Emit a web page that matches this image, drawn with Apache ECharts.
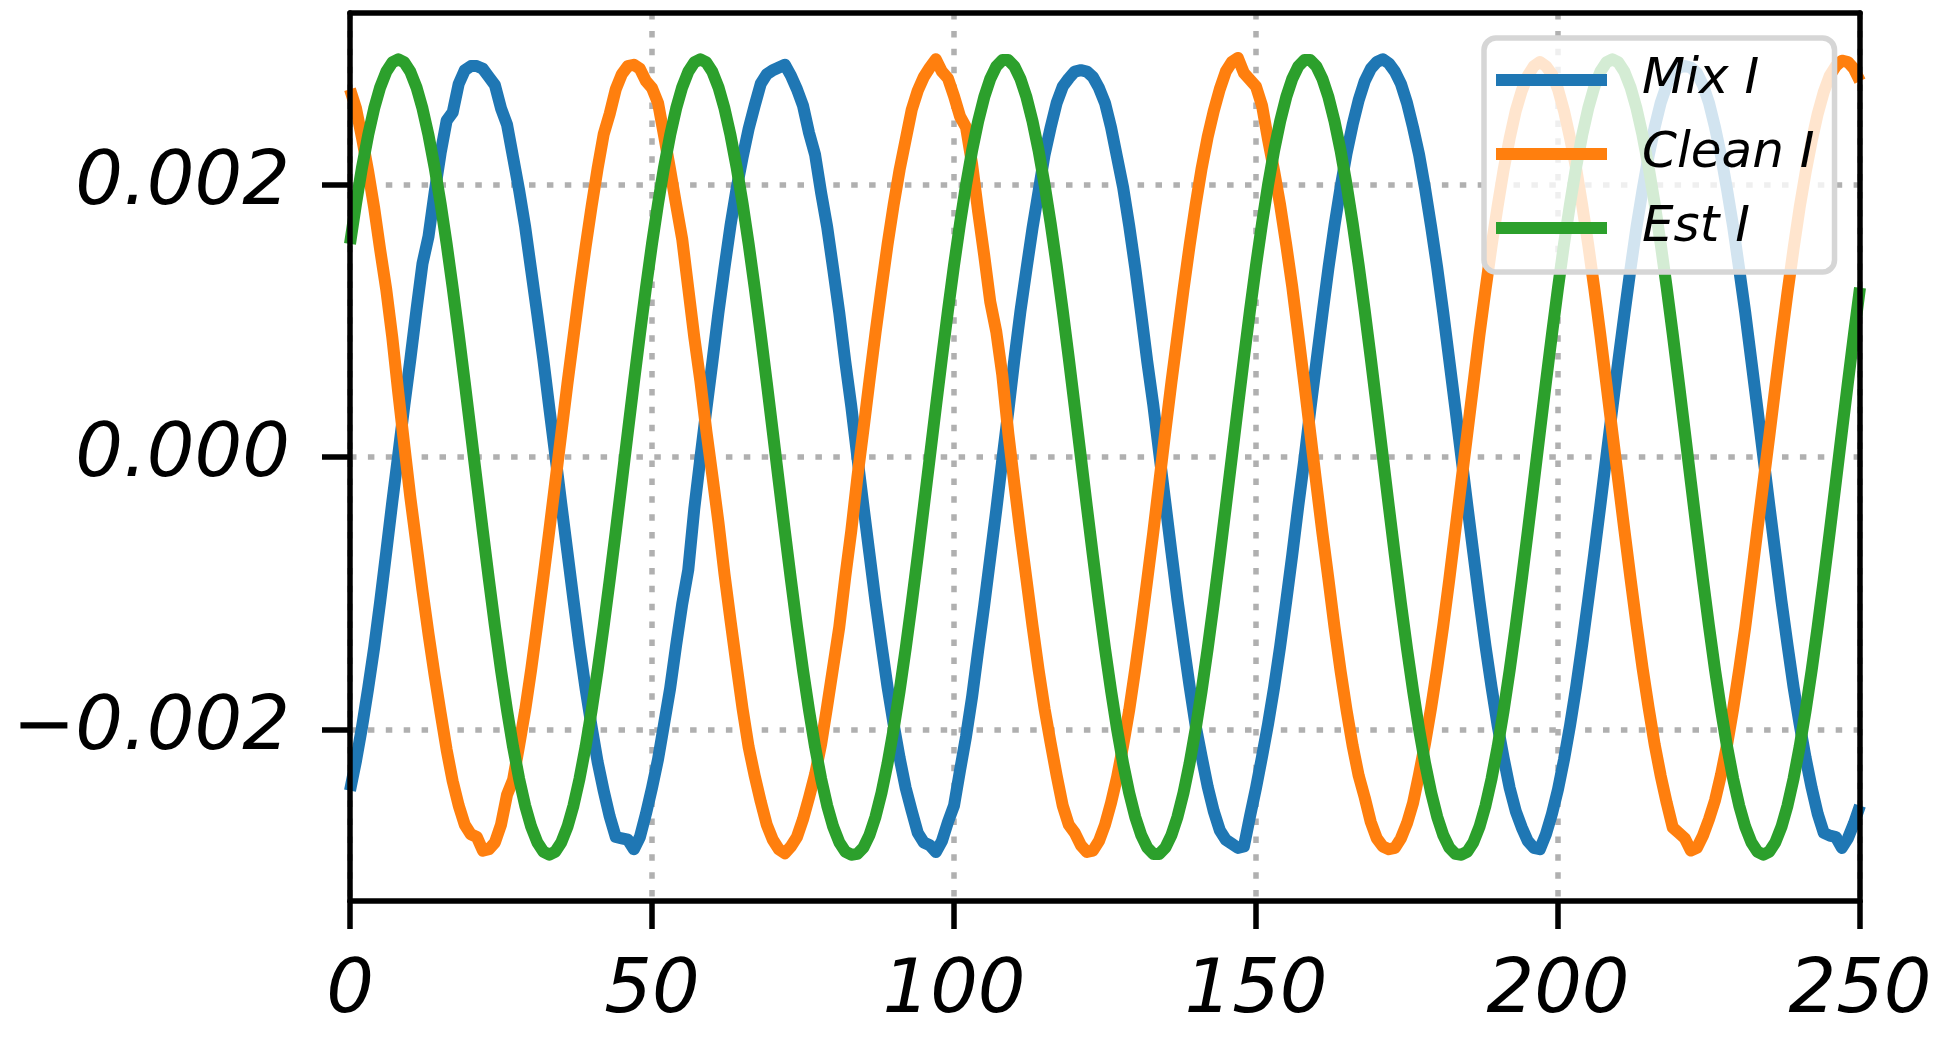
<!DOCTYPE html>
<html>
<head>
<meta charset="utf-8">
<script src="https://cdn.jsdelivr.net/npm/echarts@6/dist/echarts.min.js"></script>
<style>
html,body{margin:0;padding:0;background:#fff;}
#chart{width:1944px;height:1044px;}
</style>
</head>
<body>
<div id="chart"></div>
<script>
// ---- data (sample index 0..250) ----
const seriesNames = ['Mix I', 'Clean I', 'Est I'];
const seriesColors = ['#1f77b4', '#ff7f0e', '#2ca02c'];

const mixI = [
 -0.002450,-0.002230,-0.001980,-0.001700,-0.001400,-0.001060,-0.000700,-0.000330,0.000020,0.000380,
 0.000720,0.001080,0.001420,0.001620,0.001940,0.002230,0.002470,0.002530,0.002740,0.002840,
 0.002870,0.002870,0.002850,0.002790,0.002730,0.002560,0.002440,0.002200,0.001960,0.001690,
 0.001370,0.001050,0.000720,0.000360,0.000010,-0.000350,-0.000700,-0.001050,-0.001390,-0.001700,
 -0.001980,-0.002240,-0.002450,-0.002640,-0.002790,-0.002800,-0.002810,-0.002880,-0.002790,-0.002620,
 -0.002430,-0.002220,-0.001960,-0.001700,-0.001380,-0.001080,-0.000830,-0.000380,-0.000010,0.000350,
 0.000700,0.001060,0.001390,0.001700,0.001970,0.002200,0.002410,0.002580,0.002740,0.002810,
 0.002840,0.002860,0.002880,0.002800,0.002700,0.002580,0.002380,0.002220,0.001940,0.001690,
 0.001380,0.001060,0.000700,0.000370,0,-0.000360,-0.000710,-0.001060,-0.001380,-0.001690,
 -0.001960,-0.002210,-0.002430,-0.002600,-0.002760,-0.002830,-0.002850,-0.002900,-0.002820,-0.002680,
 -0.002560,-0.002300,-0.002050,-0.001760,-0.001420,-0.001090,-0.000740,-0.000390,-0.000020,0.000340,
 0.000720,0.001070,0.001380,0.001680,0.001950,0.002220,0.002420,0.002600,0.002720,0.002780,
 0.002830,0.002840,0.002830,0.002790,0.002710,0.002600,0.002420,0.002200,0.001980,0.001700,
 0.001390,0.001050,0.000700,0.000380,0.000020,-0.000340,-0.000700,-0.001050,-0.001370,-0.001680,
 -0.001970,-0.002200,-0.002420,-0.002600,-0.002740,-0.002810,-0.002840,-0.002870,-0.002860,-0.002640,
 -0.002430,-0.002200,-0.001960,-0.001690,-0.001390,-0.001060,-0.000720,-0.000360,-0.000020,0.000350,
 0.000700,0.001050,0.001390,0.001700,0.001980,0.002230,0.002440,0.002620,0.002760,0.002850,
 0.002900,0.002920,0.002890,0.002830,0.002740,0.002600,0.002420,0.002220,0.001970,0.001690,
 0.001390,0.001060,0.000710,0.000360,0,-0.000360,-0.000710,-0.001060,-0.001390,-0.001690,
 -0.001970,-0.002210,-0.002430,-0.002600,-0.002720,-0.002820,-0.002870,-0.002880,-0.002770,-0.002620,
 -0.002440,-0.002220,-0.001970,-0.001690,-0.001380,-0.001050,-0.000710,-0.000360,0,0.000360,
 0.000710,0.001050,0.001380,0.001690,0.001960,0.002210,0.002420,0.002600,0.002730,0.002820,
 0.002860,0.002870,0.002860,0.002820,0.002730,0.002600,0.002420,0.002210,0.001960,0.001690,
 0.001380,0.001060,0.000710,0.000360,0,-0.000360,-0.000710,-0.001060,-0.001380,-0.001690,
 -0.001960,-0.002210,-0.002430,-0.002620,-0.002760,-0.002780,-0.002790,-0.002870,-0.002800,-0.002690,
 -0.002560
];

const cleanI = [
 0.002700,0.002560,0.002340,0.002100,0.001830,0.001520,0.001230,0.000880,0.000470,0.000080,
 -0.000300,-0.000640,-0.000980,-0.001300,-0.001600,-0.001880,-0.002150,-0.002380,-0.002560,-0.002700,
 -0.002770,-0.002790,-0.002890,-0.002880,-0.002830,-0.002700,-0.002480,-0.002370,-0.002120,-0.001860,
 -0.001560,-0.001230,-0.000890,-0.000540,-0.000180,0.000180,0.000540,0.000880,0.001220,0.001540,
 0.001840,0.002120,0.002370,0.002520,0.002700,0.002810,0.002870,0.002880,0.002850,0.002760,
 0.002710,0.002600,0.002360,0.002110,0.001850,0.001600,0.001240,0.000880,0.000560,0.000190,
 -0.000140,-0.000480,-0.000860,-0.001200,-0.001530,-0.001850,-0.002130,-0.002340,-0.002530,-0.002700,
 -0.002810,-0.002880,-0.002910,-0.002860,-0.002790,-0.002660,-0.002500,-0.002330,-0.002110,-0.001830,
 -0.001540,-0.001250,-0.000880,-0.000540,-0.000150,0.000200,0.000560,0.000910,0.001240,0.001560,
 0.001850,0.002110,0.002330,0.002550,0.002690,0.002790,0.002860,0.002920,0.002830,0.002780,
 0.002650,0.002500,0.002420,0.002150,0.001800,0.001480,0.001140,0.000920,0.000600,0.000170,
 -0.000200,-0.000560,-0.000900,-0.001240,-0.001560,-0.001850,-0.002100,-0.002340,-0.002560,-0.002700,
 -0.002760,-0.002850,-0.002900,-0.002890,-0.002820,-0.002700,-0.002540,-0.002350,-0.002120,-0.001860,
 -0.001560,-0.001240,-0.000900,-0.000550,-0.000180,0.000190,0.000550,0.000890,0.001230,0.001550,
 0.001850,0.002120,0.002350,0.002540,0.002700,0.002830,0.002900,0.002930,0.002820,0.002770,
 0.002720,0.002580,0.002330,0.002100,0.001850,0.001560,0.001250,0.000900,0.000540,0.000170,
 -0.000200,-0.000560,-0.000900,-0.001250,-0.001570,-0.001860,-0.002120,-0.002340,-0.002500,-0.002680,
 -0.002800,-0.002860,-0.002880,-0.002870,-0.002800,-0.002690,-0.002540,-0.002330,-0.002100,-0.001840,
 -0.001550,-0.001240,-0.000900,-0.000540,-0.000180,0.000180,0.000540,0.000900,0.001230,0.001550,
 0.001840,0.002110,0.002340,0.002540,0.002690,0.002800,0.002870,0.002900,0.002870,0.002810,
 0.002700,0.002540,0.002340,0.002120,0.001850,0.001560,0.001240,0.000900,0.000540,0.000180,
 -0.000180,-0.000540,-0.000890,-0.001230,-0.001550,-0.001840,-0.002110,-0.002340,-0.002540,-0.002720,
 -0.002760,-0.002800,-0.002890,-0.002870,-0.002780,-0.002660,-0.002520,-0.002330,-0.002110,-0.001850,
 -0.001560,-0.001250,-0.000900,-0.000540,-0.000190,0.000160,0.000520,0.000870,0.001210,0.001530,
 0.001830,0.002090,0.002320,0.002520,0.002680,0.002800,0.002870,0.002910,0.002900,0.002850,
 0.002760
];

const estI = [
 0.001565,0.001861,0.002129,0.002362,0.002559,0.002715,0.002828,0.002897,0.002920,0.002897,
 0.002828,0.002715,0.002559,0.002362,0.002129,0.001861,0.001565,0.001243,0.000902,0.000547,
 0.000183,-0.000183,-0.000547,-0.000902,-0.001243,-0.001565,-0.001861,-0.002129,-0.002362,-0.002559,
 -0.002715,-0.002828,-0.002897,-0.002920,-0.002897,-0.002828,-0.002715,-0.002559,-0.002362,-0.002129,
 -0.001861,-0.001565,-0.001243,-0.000902,-0.000547,-0.000183,0.000183,0.000547,0.000902,0.001243,
 0.001565,0.001861,0.002129,0.002362,0.002559,0.002715,0.002828,0.002897,0.002920,0.002897,
 0.002828,0.002715,0.002559,0.002362,0.002129,0.001861,0.001565,0.001243,0.000902,0.000547,
 0.000183,-0.000183,-0.000547,-0.000902,-0.001243,-0.001565,-0.001861,-0.002129,-0.002362,-0.002559,
 -0.002715,-0.002828,-0.002897,-0.002920,-0.002914,-0.002868,-0.002777,-0.002642,-0.002465,-0.002250,
 -0.001999,-0.001716,-0.001407,-0.001075,-0.000726,-0.000366,0,0.000366,0.000726,0.001075,
 0.001407,0.001716,0.001999,0.002250,0.002465,0.002642,0.002777,0.002868,0.002914,0.002914,
 0.002868,0.002777,0.002642,0.002465,0.002250,0.001999,0.001716,0.001407,0.001075,0.000726,
 0.000366,0,-0.000366,-0.000726,-0.001075,-0.001407,-0.001716,-0.001999,-0.002250,-0.002465,
 -0.002642,-0.002777,-0.002868,-0.002914,-0.002914,-0.002868,-0.002777,-0.002642,-0.002465,-0.002250,
 -0.001999,-0.001716,-0.001407,-0.001075,-0.000726,-0.000366,0,0.000366,0.000726,0.001075,
 0.001407,0.001716,0.001999,0.002250,0.002465,0.002642,0.002777,0.002868,0.002914,0.002914,
 0.002868,0.002777,0.002642,0.002465,0.002250,0.001999,0.001716,0.001407,0.001075,0.000726,
 0.000366,0,-0.000366,-0.000726,-0.001075,-0.001407,-0.001716,-0.001999,-0.002250,-0.002465,
 -0.002642,-0.002777,-0.002868,-0.002914,-0.002920,-0.002897,-0.002828,-0.002715,-0.002559,-0.002362,
 -0.002129,-0.001861,-0.001565,-0.001243,-0.000902,-0.000547,-0.000183,0.000183,0.000547,0.000902,
 0.001243,0.001565,0.001861,0.002129,0.002362,0.002559,0.002715,0.002828,0.002897,0.002920,
 0.002897,0.002828,0.002715,0.002559,0.002362,0.002129,0.001861,0.001565,0.001243,0.000902,
 0.000547,0.000183,-0.000183,-0.000547,-0.000902,-0.001243,-0.001565,-0.001861,-0.002129,-0.002362,
 -0.002559,-0.002715,-0.002828,-0.002897,-0.002920,-0.002897,-0.002828,-0.002715,-0.002559,-0.002362,
 -0.002129,-0.001861,-0.001565,-0.001243,-0.000902,-0.000547,-0.000183,0.000183,0.000547,0.000902,
 0.001243
];

const xTicks = [0, 50, 100, 150, 200, 250];
const yTicks = [-0.002, 0, 0.002];
const yTickLabels = ['\u22120.002', '0.000', '0.002'];

// ---- chart ----
const FONT = 'DejaVu Sans';
const X_MIN = xTicks[0], X_MAX = xTicks[xTicks.length - 1], X_STEP = xTicks[1] - xTicks[0];
const Y_MIN = -0.00326, Y_MAX = 0.00326;
const frame = { color: '#000', width: 5.5 };
const gridDots = { color: '#b0b0b0', width: 5.5, type: [6.5, 11.4] };

function yLabel(v) {
  for (let i = 0; i < yTicks.length; i++) {
    if (Math.abs(v - yTicks[i]) < 1e-9) return yTickLabels[i];
  }
  return '';
}

const chart = echarts.init(document.getElementById('chart'), null, { renderer: 'canvas', width: 1944, height: 1044 });

const allSeries = [mixI, cleanI, estI].map((vals, k) => ({
  name: seriesNames[k],
  type: 'line',
  data: vals.map((v, i) => [i, v]),
  showSymbol: false,
  symbol: 'none',
  silent: true,
  clip: true,
  z: 2 + k * 0.01,
  color: seriesColors[k],
  lineStyle: { color: seriesColors[k], width: 12, join: 'round', cap: 'butt' },
  itemStyle: { color: seriesColors[k] }
}));

chart.setOption({
  animation: false,
  backgroundColor: '#ffffff',
  grid: { left: 350, top: 13, width: 1510, height: 888, containLabel: false },
  xAxis: [
    {
      type: 'value', min: X_MIN, max: X_MAX, interval: X_STEP, position: 'bottom', z: 10,
      axisLine: { show: true, onZero: false, lineStyle: frame },
      axisTick: { show: true, inside: false, length: 28, lineStyle: { color: '#000', width: 5.5 } },
      axisLabel: { show: true, margin: 54, fontSize: 75, fontFamily: FONT, fontStyle: 'italic', color: '#000', showMinLabel: true, showMaxLabel: true },
      splitLine: { show: false }
    },
    {
      type: 'value', min: X_MIN, max: X_MAX, position: 'top', z: 10,
      axisLine: { show: true, onZero: false, lineStyle: frame },
      axisTick: { show: false }, axisLabel: { show: false }, splitLine: { show: false }
    },
    {
      type: 'value', min: X_MIN, max: X_MAX, interval: X_STEP, position: 'bottom', z: 0,
      axisLine: { show: false, onZero: false }, axisTick: { show: false }, axisLabel: { show: false },
      splitLine: { show: true, lineStyle: gridDots }
    }
  ],
  yAxis: [
    {
      type: 'value', min: Y_MIN, max: Y_MAX, position: 'left', z: 10,
      axisLine: { show: true, onZero: false, lineStyle: frame },
      axisTick: { show: true, inside: false, length: 28, customValues: yTicks, lineStyle: { color: '#000', width: 5.5 } },
      axisLabel: { show: true, margin: 60, customValues: yTicks, formatter: yLabel, fontSize: 75, fontFamily: FONT, fontStyle: 'italic', color: '#000' },
      splitLine: { show: false }
    },
    {
      type: 'value', min: Y_MIN, max: Y_MAX, position: 'right', z: 10,
      axisLine: { show: true, onZero: false, lineStyle: frame },
      axisTick: { show: false }, axisLabel: { show: false }, splitLine: { show: false }
    },
    {
      type: 'value', min: Y_MIN, max: Y_MAX, position: 'left', z: 0,
      axisLine: { show: false, onZero: false },
      axisTick: { show: false, customValues: yTicks },
      axisLabel: { show: false, customValues: yTicks },
      splitLine: { show: true, lineStyle: gridDots }
    }
  ],
  legend: {
    show: true, orient: 'vertical', left: 1484, top: 38,
    data: seriesNames,
    icon: 'rect', itemWidth: 111, itemHeight: 12, itemGap: 24,
    itemStyle: { borderWidth: 0 },
    padding: [17, 20, 19, 12],
    backgroundColor: 'rgba(255,255,255,0.8)',
    borderColor: '#d6d6d6', borderWidth: 5.5, borderRadius: 12,
    selectedMode: false, z: 20,
    textStyle: { fontFamily: FONT, fontStyle: 'italic', fontSize: 50, lineHeight: 48, color: '#000', padding: [0, 0, 0, 30] }
  },
  series: allSeries
});
</script>
</body>
</html>
